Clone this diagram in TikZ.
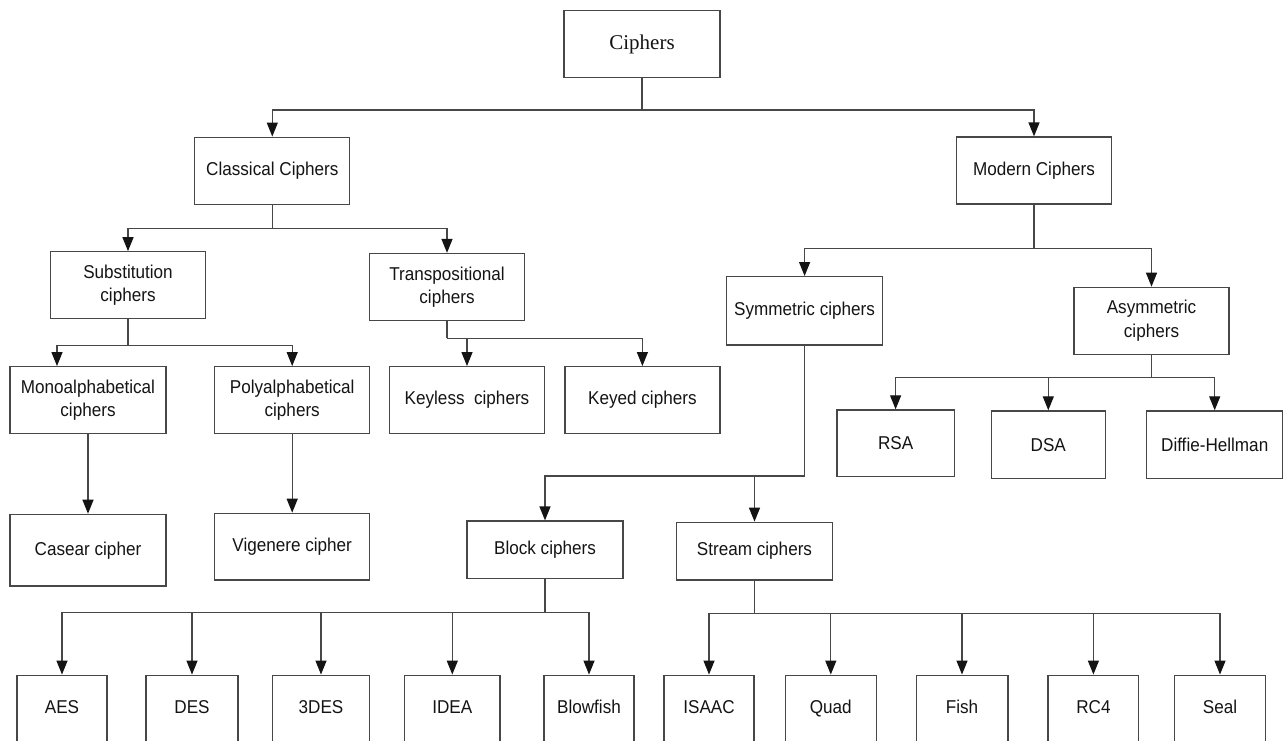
\documentclass[tikz,border=0pt]{standalone}
\usepackage{fontspec}
\setmainfont{Liberation Sans}[FakeStretch=0.92]
\newfontfamily\serifcipher{Liberation Serif}
\usetikzlibrary{arrows.meta}
\begin{document}
\begin{tikzpicture}[x=1pt,y=-1pt,
  box/.style={draw=black!72, line width=1.3pt, fill=white, inner sep=0pt, align=center,
    font=\fontsize{18.6}{23.5}\selectfont, text=black!92},
  conn/.style={draw=black!72, line width=1.3pt},
  arr/.style={conn, -{Triangle[width=11pt,length=14pt,color=black!92]}},
  wbox/.style={box, minimum width=155pt, minimum height=67pt},
  leaf/.style={box, minimum width=91pt, minimum height=67pt, text height=13pt, text depth=3pt}]
\useasboundingbox (0,0) rectangle (1284,740);
\clip (0,0) rectangle (1284,740);
% top
\node[box, minimum width=156pt, minimum height=66.6pt, font=\serifcipher\fontsize{21}{25}\selectfont] (ciphers) at (642,44) {Ciphers};
\node[wbox] (classical) at (272.3,170.7) {Classical Ciphers};
\node[wbox] (modern) at (1034,170.5) {Modern Ciphers};
% classical side
\node[wbox] (subst) at (128,285.3) {Substitution\\ciphers};
\node[wbox] (transp) at (447,287) {Transpositional\\ciphers};
\node[box, minimum width=156pt, minimum height=66.6pt] (mono) at (88,400) {Monoalphabetical\\ciphers};
\node[wbox, minimum height=66.6pt] (poly) at (292.2,400) {Polyalphabetical\\ciphers};
\node[wbox, minimum height=66.6pt] (keyless) at (467,400) {Keyless\ \ ciphers};
\node[wbox, minimum height=66.6pt] (keyed) at (642.4,400) {Keyed ciphers};
\node[box, minimum width=156pt, minimum height=71.7pt] (caesar) at (88,550.2) {Casear cipher};
\node[wbox, minimum height=66.7pt] (vig) at (292.2,546.7) {Vigenere cipher};
% modern side
\node[box, minimum width=156pt, minimum height=68.3pt] (sym) at (804.6,310.8) {Symmetric ciphers};
\node[wbox] (asym) at (1151.5,320.8) {Asymmetric\\ciphers};
\node[box, minimum width=117.4pt, minimum height=66.7pt] (rsa) at (895.6,443.3) {RSA};
\node[box, minimum width=113.8pt, minimum height=67.7pt] (dsa) at (1048.3,444.8) {DSA};
\node[box, minimum width=136pt, minimum height=67.7pt] (dh) at (1214.7,444.8) {Diffie-Hellman};
\node[box, minimum width=155.8pt, minimum height=57.3pt] (block) at (545,549.7) {Block ciphers};
\node[box, minimum width=156.1pt, minimum height=57.7pt] (stream) at (754.5,551.1) {Stream ciphers};
% leaves
\node[leaf, minimum width=90pt] (aes) at (62,708.7) {AES};
\node[leaf, minimum width=92pt] (des) at (192,708.7) {DES};
\node[leaf, minimum width=97pt] (tdes) at (321,708.7) {3DES};
\node[leaf, minimum width=95.5pt] (idea) at (452.3,708.7) {IDEA};
\node[leaf, minimum width=90.2pt] (blowfish) at (589,708.7) {Blowfish};
\node[leaf, minimum width=90pt] (isaac) at (709,708.7) {ISAAC};
\node[leaf, minimum width=91pt] (quad) at (830.8,708.7) {Quad};
\node[leaf, minimum width=91.7pt] (fish) at (962,708.7) {Fish};
\node[leaf, minimum width=90.8pt] (rcfour) at (1093.4,708.7) {RC4};
\node[leaf, minimum width=90.8pt] (seal) at (1220,708.7) {Seal};
% junctions
\coordinate (j1) at (642,110);
\coordinate (j2) at (272.3,228.7);
\coordinate (j3) at (128,345.3);
\coordinate (jm) at (57,345.3);
\coordinate (j4) at (447,338.3);
\coordinate (j5) at (1034,248.3);
\coordinate (j6) at (754.5,476);
\coordinate (j7) at (1151.5,377.7);
\coordinate (j8) at (545,612.3);
\coordinate (j9) at (754.5,613.3);
% connectors
\draw[conn] (ciphers.south) -- (j1);
\draw[arr] (j1) -| (classical.north);
\draw[arr] (j1) -| (modern.north);
\draw[conn] (classical.south) -- (j2);
\draw[arr] (j2) -| (subst.north);
\draw[arr] (j2) -| (transp.north);
\draw[conn] (subst.south) -- (j3);
\draw[arr] (j3) -- (jm) -- (jm |- mono.north);
\draw[arr] (j3) -| (poly.north);
\draw[conn] (transp.south) -- (j4);
\draw[arr] (j4) -| (keyless.north);
\draw[arr] (j4) -| (keyed.north);
\draw[arr] (mono.south) -- (caesar.north);
\draw[arr] (poly.south) -- (vig.north);
\draw[conn] (modern.south) -- (j5);
\draw[arr] (j5) -| (sym.north);
\draw[arr] (j5) -| (asym.north);
\draw[arr] (sym.south) |- (block.north |- j6) -- (block.north);
\draw[arr] (j6) -- (stream.north);
\draw[conn] (asym.south) -- (j7);
\draw[arr] (j7) -| (rsa.north);
\draw[arr] (j7) -| (dh.north);
\draw[arr] (dsa.north |- j7) -- (dsa.north);
\draw[conn] (block.south) -- (j8);
\draw[arr] (j8) -| (aes.north);
\draw[arr] (j8) -| (blowfish.north);
\draw[arr] (des.north |- j8) -- (des.north);
\draw[arr] (tdes.north |- j8) -- (tdes.north);
\draw[arr] (idea.north |- j8) -- (idea.north);
\draw[conn] (stream.south) -- (j9);
\draw[arr] (j9) -| (isaac.north);
\draw[arr] (j9) -| (seal.north);
\draw[arr] (quad.north |- j9) -- (quad.north);
\draw[arr] (fish.north |- j9) -- (fish.north);
\draw[arr] (rcfour.north |- j9) -- (rcfour.north);
\end{tikzpicture}
\end{document}
